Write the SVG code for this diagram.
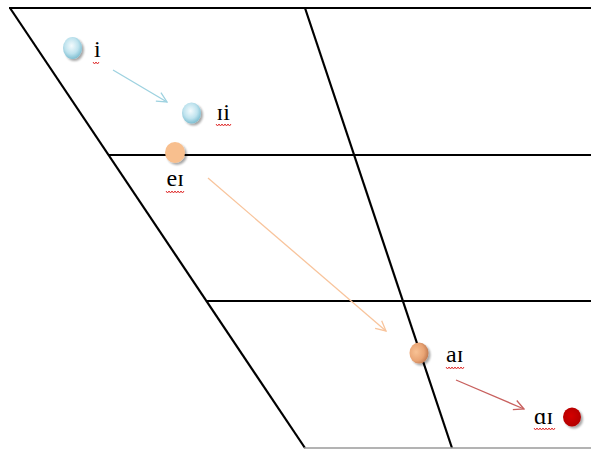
<svg xmlns="http://www.w3.org/2000/svg" width="591" height="449" viewBox="0 0 591 449">
<defs>
<radialGradient id="gBlue" cx="0.45" cy="0.4" r="0.6">
<stop offset="0" stop-color="#f4fbfd"/>
<stop offset="0.6" stop-color="#bfe3ee"/>
<stop offset="1" stop-color="#7fbfd2"/>
</radialGradient>
<radialGradient id="gOrange2" cx="0.35" cy="0.45" r="0.7">
<stop offset="0" stop-color="#f8c295"/>
<stop offset="0.6" stop-color="#e9a474"/>
<stop offset="1" stop-color="#b8714a"/>
</radialGradient>
<radialGradient id="gRed" cx="0.45" cy="0.45" r="0.6">
<stop offset="0" stop-color="#d40000"/>
<stop offset="1" stop-color="#b00000"/>
</radialGradient>
<marker id="aBlue" markerWidth="12" markerHeight="12" refX="11" refY="6" orient="auto" markerUnits="userSpaceOnUse">
<path d="M1,1 L11,6 L1,11" fill="none" stroke="#9ed2e0" stroke-width="1.3"/>
</marker>
<marker id="aOrange" markerWidth="12" markerHeight="12" refX="11" refY="6" orient="auto" markerUnits="userSpaceOnUse">
<path d="M1,1 L11,6 L1,11" fill="none" stroke="#f8c49c" stroke-width="1.3"/>
</marker>
<marker id="aRed" markerWidth="12" markerHeight="12" refX="11" refY="6" orient="auto" markerUnits="userSpaceOnUse">
<path d="M1,1 L11,6 L1,11" fill="none" stroke="#c8605e" stroke-width="1.3"/>
</marker>
<filter id="sh" x="-50%" y="-50%" width="200%" height="200%">
<feGaussianBlur in="SourceAlpha" stdDeviation="1"/>
<feOffset dx="1.5" dy="2" result="b"/>
<feComponentTransfer><feFuncA type="linear" slope="0.35"/></feComponentTransfer>
<feMerge><feMergeNode/><feMergeNode in="SourceGraphic"/></feMerge>
</filter>
</defs>
<style>
.grid{stroke:#000;stroke-width:2.2;fill:none}
.lbl{font-family:"Liberation Serif","Times New Roman",serif;font-size:24px;fill:#000}
.sq{fill:none;stroke:#e03030;stroke-width:1}
</style>
<rect width="591" height="449" fill="#fff"/>
<g id="chart">
<line class="grid" x1="9" y1="8" x2="591" y2="8"/>
<line class="grid" x1="10" y1="8" x2="305" y2="448"/>
<line class="grid" x1="305" y1="8" x2="452" y2="448"/>
<line class="grid" x1="108" y1="155" x2="591" y2="155"/>
<line class="grid" x1="206" y1="301" x2="591" y2="301"/>
<line x1="304" y1="448" x2="591" y2="448" stroke="#9a9a9a" stroke-width="1.5"/>
</g>
<g id="connectors">
<line x1="113" y1="70" x2="167" y2="102" stroke="#9ed2e0" stroke-width="1.3" marker-end="url(#aBlue)"/>
<line x1="208" y1="178" x2="386" y2="331" stroke="#f8c49c" stroke-width="1.3" marker-end="url(#aOrange)"/>
<line x1="456" y1="380" x2="524" y2="409" stroke="#c8605e" stroke-width="1.3" marker-end="url(#aRed)"/>
</g>
<g id="node-i">
<ellipse cx="72.5" cy="48" rx="9.5" ry="11" fill="url(#gBlue)" filter="url(#sh)"/>
<text class="lbl" x="94" y="57">i</text>
<path class="sq" d="M93,62 l1.5,2 l1.5,-2 l1.5,2 l1.5,-2"/>
</g>
<g id="node-ii">
<ellipse cx="191.5" cy="113" rx="9.5" ry="10.5" fill="url(#gBlue)" filter="url(#sh)"/>
<text class="lbl" x="216.5" y="119.5">ɪi</text>
<path class="sq" d="M216,124 l1.5,2 l1.5,-2 l1.5,2 l1.5,-2 l1.5,2 l1.5,-2 l1.5,2 l1.5,-2 l1.5,2 l1.5,-2"/>
</g>
<g id="node-ei">
<ellipse cx="175" cy="152.5" rx="10" ry="10.5" fill="#f8bf8e" filter="url(#sh)"/>
<text class="lbl" x="166.5" y="186">eɪ</text>
<path class="sq" d="M166,191 l1.5,2 l1.5,-2 l1.5,2 l1.5,-2 l1.5,2 l1.5,-2 l1.5,2 l1.5,-2 l1.5,2 l1.5,-2 l1.5,2 l1.5,-2"/>
</g>
<g id="node-ai">
<ellipse cx="419" cy="353" rx="9.5" ry="10.5" fill="url(#gOrange2)" filter="url(#sh)"/>
<text class="lbl" x="446" y="362">aɪ</text>
<path class="sq" d="M446,367 l1.5,2 l1.5,-2 l1.5,2 l1.5,-2 l1.5,2 l1.5,-2 l1.5,2 l1.5,-2 l1.5,2 l1.5,-2 l1.5,2 l1.5,-2"/>
</g>
<g id="node-ai2">
<text class="lbl" x="534" y="423.5">ɑɪ</text>
<path class="sq" d="M534,428 l1.5,2 l1.5,-2 l1.5,2 l1.5,-2 l1.5,2 l1.5,-2 l1.5,2 l1.5,-2 l1.5,2 l1.5,-2 l1.5,2 l1.5,-2 l1.5,2 l1.5,-2"/>
<ellipse cx="572" cy="417" rx="9" ry="9.5" fill="url(#gRed)" filter="url(#sh)"/>
</g>
</svg>
